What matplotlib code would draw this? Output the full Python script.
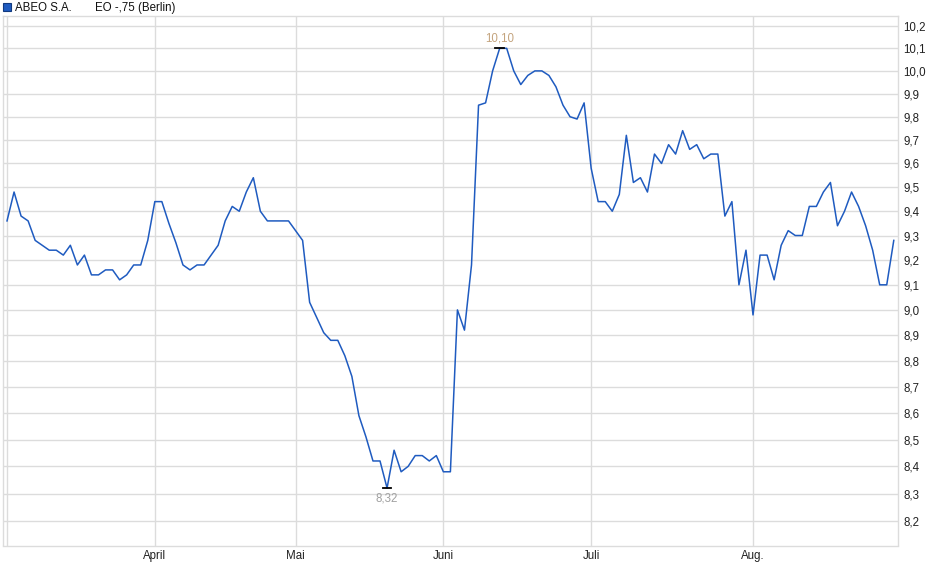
import numpy as np
import matplotlib
matplotlib.use("Agg")
import matplotlib.pyplot as plt
from matplotlib.ticker import FixedLocator, FixedFormatter, NullLocator

plt.rcParams['font.family'] = ['Liberation Sans', 'DejaVu Sans']

# closing prices, one per trading day (Mar - Aug)
prices = [
    9.36, 9.48, 9.38, 9.36, 9.28, 9.26, 9.24, 9.24, 9.22, 9.26,
    9.18, 9.22, 9.14, 9.14, 9.16, 9.16, 9.12, 9.14, 9.18, 9.18,
    9.28, 9.44, 9.44, 9.35, 9.27, 9.18, 9.16, 9.18, 9.18, 9.22,
    9.26, 9.36, 9.42, 9.40, 9.48, 9.54, 9.40, 9.36, 9.36, 9.36,
    9.36, 9.32, 9.28, 9.03, 8.97, 8.91, 8.88, 8.88, 8.82, 8.74,
    8.59, 8.51, 8.42, 8.42, 8.32, 8.46, 8.38, 8.40, 8.44, 8.44,
    8.42, 8.44, 8.38, 8.38, 9.00, 8.92, 9.18, 9.85, 9.86, 10.00,
    10.10, 10.10, 10.00, 9.94, 9.98, 10.00, 10.00, 9.98, 9.93, 9.85,
    9.80, 9.79, 9.86, 9.58, 9.44, 9.44, 9.40, 9.47, 9.72, 9.52,
    9.54, 9.48, 9.64, 9.60, 9.68, 9.64, 9.74, 9.66, 9.68, 9.62,
    9.64, 9.64, 9.38, 9.44, 9.10, 9.24, 8.98, 9.22, 9.22, 9.12,
    9.26, 9.32, 9.30, 9.30, 9.42, 9.42, 9.48, 9.52, 9.34, 9.40,
    9.48, 9.42, 9.34, 9.24, 9.10, 9.10, 9.28,
]

# index of first trading day of each month
month_pos = [0, 21, 41, 62, 83, 106]
month_labels = ["", "April", "Mai", "Juni", "Juli", "Aug."]

y_ticks = [8.2, 8.3, 8.4, 8.5, 8.6, 8.7, 8.8, 8.9, 9.0, 9.1, 9.2,
           9.3, 9.4, 9.5, 9.6, 9.7, 9.8, 9.9, 10.0, 10.1, 10.2]

grid_col = "#dcdcdc"
line_col = "#1f5bc0"

fig = plt.figure(figsize=(9.4, 5.79), dpi=100)
ax = fig.add_axes([3 / 940, 1 - 545.5 / 579, 895 / 940, 529.5 / 579])

x = np.arange(len(prices))
ax.plot(x, prices, color=line_col, lw=1.1, zorder=3)

ax.set_yscale("log")
ax.set_ylim(8.112, 10.245)
ax.set_xlim(-0.57, 126.6)

ax.yaxis.set_major_locator(FixedLocator(y_ticks))
ax.yaxis.set_major_formatter(FixedFormatter([f"{v:.1f}".replace(".", ",") for v in y_ticks]))
ax.yaxis.set_minor_locator(NullLocator())
ax.xaxis.set_major_locator(FixedLocator(month_pos))
ax.xaxis.set_major_formatter(FixedFormatter(month_labels))

ax.yaxis.tick_right()
ax.tick_params(axis="y", length=0, pad=4, labelsize=8.3, labelcolor="#222222")
ax.tick_params(axis="x", length=0, pad=3, labelsize=8.3, labelcolor="#222222")
ax.grid(True, color=grid_col, lw=1.0, zorder=0)
for s in ax.spines.values():
    s.set_color(grid_col)
    s.set_linewidth(1.0)

# high / low markers
hi = int(np.argmax(prices))
lo = int(np.argmin(prices))
ax.plot([hi - 0.6, hi + 0.6], [prices[hi], prices[hi]], color="black", lw=1.3, zorder=4)
ax.plot([lo - 0.6, lo + 0.6], [prices[lo], prices[lo]], color="black", lw=1.3, zorder=4)
ax.annotate(f"{prices[hi]:.2f}".replace(".", ","), (hi, prices[hi]), xytext=(0, 3),
            textcoords="offset points", ha="center", va="bottom", fontsize=8.3, color="#c4a47e")
ax.annotate(f"{prices[lo]:.2f}".replace(".", ","), (lo, prices[lo]), xytext=(0, -3),
            textcoords="offset points", ha="center", va="top", fontsize=8.3, color="#a0a0a0")

# legend line at top
fig.patches.append(plt.Rectangle((3 / 940, 1 - 11 / 579), 8 / 940, 8 / 579,
                                 transform=fig.transFigure, facecolor="#1f5bc0",
                                 edgecolor="#123a80", lw=0.8))
fig.text(15 / 940, 1 - 8 / 579, "ABEO S.A.", fontsize=8.3, va="center", ha="left", color="#111111")
fig.text(95 / 940, 1 - 8 / 579, "EO -,75 (Berlin)", fontsize=8.3, va="center", ha="left", color="#111111")

fig.savefig("out.png", dpi=100)
